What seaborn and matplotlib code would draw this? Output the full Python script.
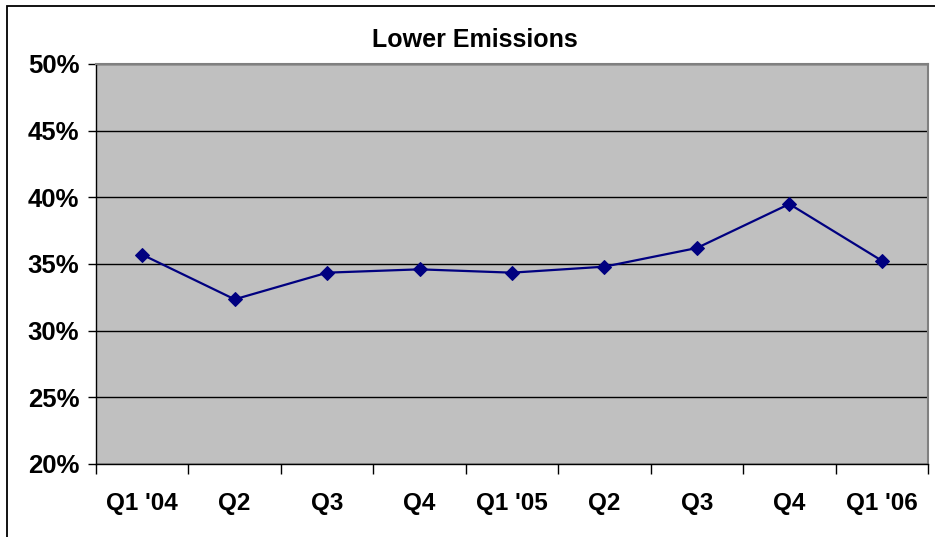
import matplotlib
matplotlib.use("Agg")
import matplotlib.pyplot as plt
import seaborn as sns
import pandas as pd
from matplotlib.patches import Rectangle
from matplotlib.ticker import FuncFormatter

# Quarterly share of lower-emission sales (percent)
quarters = ["Q1 '04", "Q2", "Q3", "Q4", "Q1 '05", "Q2 ", "Q3 ", "Q4 ", "Q1 '06"]
tick_labels = ["Q1 '04", "Q2", "Q3", "Q4", "Q1 '05", "Q2", "Q3", "Q4", "Q1 '06"]
share_pct = [35.7, 32.35, 34.35, 34.6, 34.35, 34.8, 36.2, 39.5, 35.25]
y_ticks = [20, 25, 30, 35, 40, 45, 50]

sns.set_theme(style="white")
plt.rcParams["font.family"] = ["Liberation Sans", "DejaVu Sans"]
plt.rcParams["font.weight"] = "bold"
plt.rcParams["text.color"] = "#000000"
plt.rcParams["xtick.color"] = "#000000"
plt.rcParams["ytick.color"] = "#000000"

df = pd.DataFrame({"quarter": quarters, "share": share_pct})
pos = list(range(len(quarters)))
df["pos"] = pos

fig = plt.figure(figsize=(9.35, 5.37), dpi=100)
ax = fig.add_axes([96 / 935, 1 - 464 / 537, (928 - 96) / 935, (464 - 64) / 537])
ax.set_facecolor("#C0C0C0")

sns.lineplot(data=df, x="pos", y="share", ax=ax, color="#000080", linewidth=1.6,
             marker="D", markersize=7.5, markeredgecolor="#000080", sort=False, zorder=3)

ax.set_xlim(-0.5, len(quarters) - 0.5)
ax.set_ylim(20, 50)
ax.set_yticks(y_ticks)
ax.yaxis.set_major_formatter(FuncFormatter(lambda v, _: f"{v:.0f}%"))
ax.grid(axis="y", color="#000000", linewidth=1.0)
ax.set_axisbelow(True)

# category boundaries carry tick marks, labels sit at category centres
ax.set_xticks([p - 0.5 for p in pos] + [len(pos) - 0.5])
ax.set_xticklabels([])
ax.set_xticks(pos, minor=True)
ax.set_xticklabels(tick_labels, minor=True)
ax.tick_params(axis="x", which="major", direction="out", length=7.5, width=1, color="#000000", bottom=True)
ax.tick_params(axis="x", which="minor", length=0, pad=20, labelsize=17.5, labelcolor="#000000")
ax.tick_params(axis="y", direction="out", length=6, width=1, color="#000000", left=True,
               pad=6, labelsize=18.5, labelcolor="#000000")
for lbl in ax.get_xticklabels(minor=True) + ax.get_yticklabels():
    lbl.set_fontweight("bold")

ax.set_xlabel("")
ax.set_ylabel("")
for side in ["left", "bottom"]:
    ax.spines[side].set_color("#000000")
    ax.spines[side].set_linewidth(1.0)
for side in ["top", "right"]:
    ax.spines[side].set_color("#808080")
    ax.spines[side].set_linewidth(1.5)

fig.text(475 / 935, 1 - 40 / 537, "Lower Emissions", ha="center", va="center",
         fontsize=18, fontweight="bold", color="#000000")

# chart frame
fig.patches.append(Rectangle((7 / 935, -0.1), 1.2, 1.1 - 5.5 / 537,
                             transform=fig.transFigure, fill=False,
                             edgecolor="#000000", linewidth=1.3, zorder=0))

fig.savefig("out.png", dpi=100)
